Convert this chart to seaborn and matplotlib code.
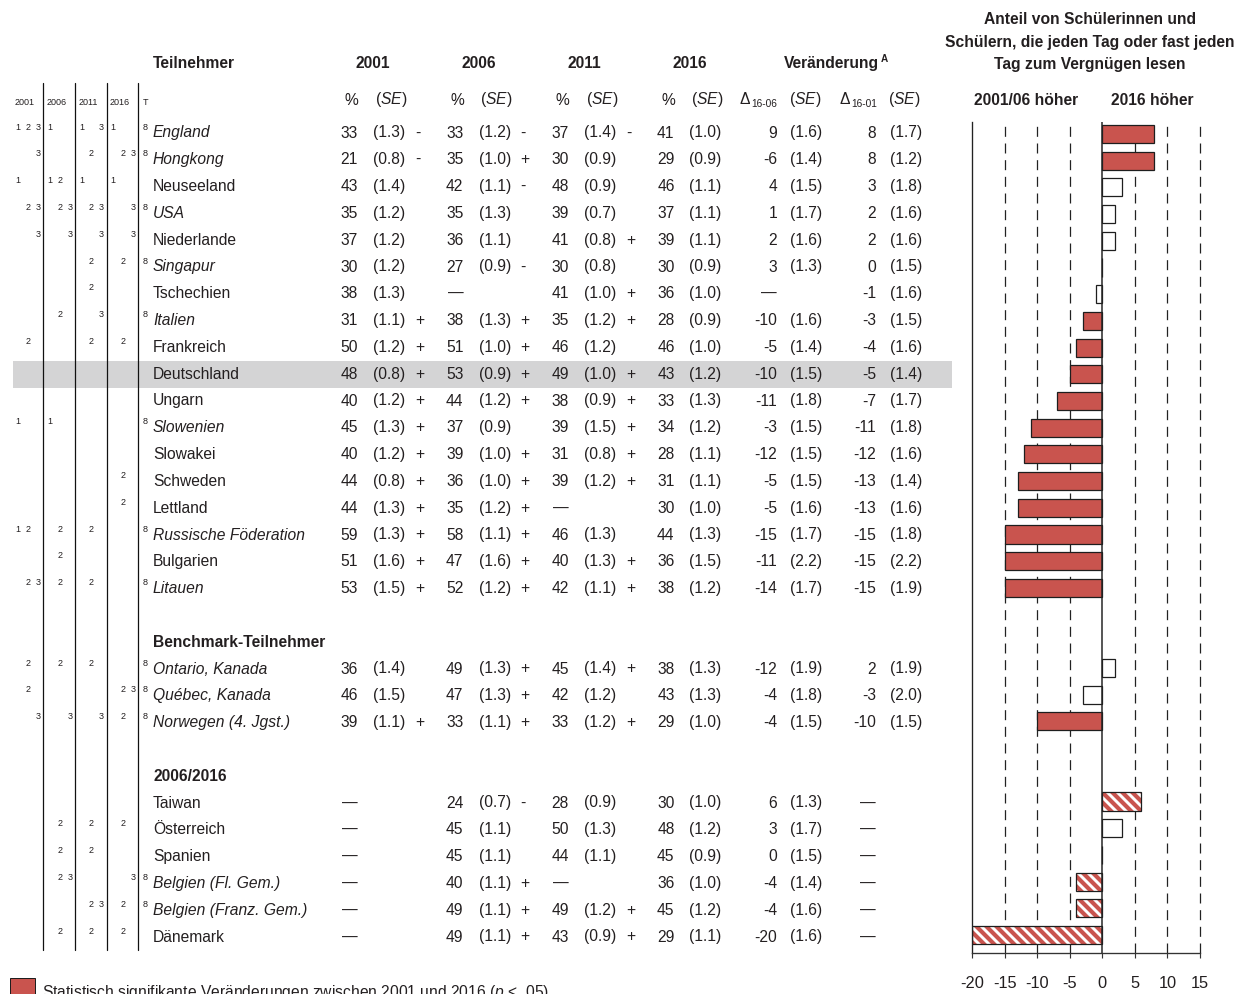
import matplotlib
matplotlib.use("Agg")
import matplotlib.pyplot as plt
import matplotlib.colors as mcolors
from matplotlib.patches import Rectangle
import numpy as np
import pandas as pd
import seaborn as sns

# ---------------------------------------------------------------- data
countries = ["England", "Hongkong", "Neuseeland", "USA", "Niederlande", "Singapur",
             "Tschechien", "Italien", "Frankreich", "Deutschland", "Ungarn", "Slowenien",
             "Slowakei", "Schweden", "Lettland", "Russische Föderation", "Bulgarien", "Litauen",
             "Ontario, Kanada", "Québec, Kanada", "Norwegen (4. Jgst.)",
             "Taiwan", "Österreich", "Spanien", "Belgien (Fl. Gem.)", "Belgien (Franz. Gem.)",
             "Dänemark"]
groups = ["main"] * 18 + ["bench"] * 3 + ["0616"] * 6
group_titles = {"bench": "Benchmark-Teilnehmer", "0616": "2006/2016"}
note_t8 = [1, 1, 0, 1, 0, 1, 0, 1, 0, 0, 0, 1, 0, 0, 0, 1, 0, 1, 1, 1, 1, 0, 0, 0, 1, 1, 0]

N = None
pct_2001 = [33, 21, 43, 35, 37, 30, 38, 31, 50, 48, 40, 45, 40, 44, 44, 59, 51, 53, 36, 46, 39, N, N, N, N, N, N]
se_2001 = [1.3, 0.8, 1.4, 1.2, 1.2, 1.2, 1.3, 1.1, 1.2, 0.8, 1.2, 1.3, 1.2, 0.8, 1.3, 1.3, 1.6, 1.5, 1.4, 1.5, 1.1, N, N, N, N, N, N]
sig_2001 = ["-", "-", "", "", "", "", "", "+", "+", "+", "+", "+", "+", "+", "+", "+", "+", "+", "", "", "+", "", "", "", "", "", ""]

pct_2006 = [33, 35, 42, 35, 36, 27, N, 38, 51, 53, 44, 37, 39, 36, 35, 58, 47, 52, 49, 47, 33, 24, 45, 45, 40, 49, 49]
se_2006 = [1.2, 1.0, 1.1, 1.3, 1.1, 0.9, N, 1.3, 1.0, 0.9, 1.2, 0.9, 1.0, 1.0, 1.2, 1.1, 1.6, 1.2, 1.3, 1.3, 1.1, 0.7, 1.1, 1.1, 1.1, 1.1, 1.1]
sig_2006 = ["-", "+", "-", "", "", "-", "", "+", "+", "+", "+", "", "+", "+", "+", "+", "+", "+", "+", "+", "+", "-", "", "", "+", "+", "+"]

pct_2011 = [37, 30, 48, 39, 41, 30, 41, 35, 46, 49, 38, 39, 31, 39, N, 46, 40, 42, 45, 42, 33, 28, 50, 44, N, 49, 43]
se_2011 = [1.4, 0.9, 0.9, 0.7, 0.8, 0.8, 1.0, 1.2, 1.2, 1.0, 0.9, 1.5, 0.8, 1.2, N, 1.3, 1.3, 1.1, 1.4, 1.2, 1.2, 0.9, 1.3, 1.1, N, 1.2, 0.9]
sig_2011 = ["-", "", "", "", "+", "", "+", "+", "", "+", "+", "+", "+", "+", "", "", "+", "+", "+", "", "+", "", "", "", "", "+", "+"]

pct_2016 = [41, 29, 46, 37, 39, 30, 36, 28, 46, 43, 33, 34, 28, 31, 30, 44, 36, 38, 38, 43, 29, 30, 48, 45, 36, 45, 29]
se_2016 = [1.0, 0.9, 1.1, 1.1, 1.1, 0.9, 1.0, 0.9, 1.0, 1.2, 1.3, 1.2, 1.1, 1.1, 1.0, 1.3, 1.5, 1.2, 1.3, 1.3, 1.0, 1.0, 1.2, 0.9, 1.0, 1.2, 1.1]

d_16_06 = [9, -6, 4, 1, 2, 3, N, -10, -5, -10, -11, -3, -12, -5, -5, -15, -11, -14, -12, -4, -4, 6, 3, 0, -4, -4, -20]
se_16_06 = [1.6, 1.4, 1.5, 1.7, 1.6, 1.3, N, 1.6, 1.4, 1.5, 1.8, 1.5, 1.5, 1.5, 1.6, 1.7, 2.2, 1.7, 1.9, 1.8, 1.5, 1.3, 1.7, 1.5, 1.4, 1.6, 1.6]
d_16_01 = [8, 8, 3, 2, 2, 0, -1, -3, -4, -5, -7, -11, -12, -13, -13, -15, -15, -15, 2, -3, -10, N, N, N, N, N, N]
se_16_01 = [1.7, 1.2, 1.8, 1.6, 1.6, 1.5, 1.6, 1.5, 1.6, 1.4, 1.7, 1.8, 1.6, 1.4, 1.6, 1.8, 2.2, 1.9, 1.9, 2.0, 1.5, N, N, N, N, N, N]

# significance of the plotted change (True = significant)
bar_sig = [1, 1, 0, 0, 0, 0, 0, 1, 1, 1, 1, 1, 1, 1, 1, 1, 1, 1, 0, 0, 1, 1, 0, 0, 1, 1, 1]

# footnote marks per assessment year
fn_2001 = ["123", "3", "1", "23", "3", "", "", "", "2", "", "", "1", "", "", "", "12", "", "23", "2", "2", "3", "", "", "", "", "", ""]
fn_2006 = ["1", "", "12", "23", "3", "", "", "2", "", "", "", "1", "", "", "", "2", "2", "2", "2", "", "3", "", "2", "2", "23", "", "2"]
fn_2011 = ["13", "2", "1", "23", "3", "2", "2", "3", "2", "", "", "", "", "", "", "2", "", "2", "2", "", "3", "", "2", "2", "", "23", "2"]
fn_2016 = ["1", "23", "1", "3", "3", "2", "", "", "2", "", "", "", "", "2", "2", "", "", "", "", "23", "2", "", "2", "", "3", "2", "2"]
fn_years = ["2001", "2006", "2011", "2016"]

highlight = "Deutschland"
xticks = [-20, -15, -10, -5, 0, 5, 10, 15]
xtick_labels = ["-20", "-15", "-10", "-5", "0", "5", "10", "15"]

# ---------------------------------------------------------------- style
RED = "#C9544E"
TXT = "#231F20"
EDGE = "#1E1E1E"
BAND = "#D4D4D5"

sns.set_theme(style="white")
plt.rcParams["font.family"] = ["Liberation Sans", "DejaVu Sans"]
plt.rcParams["mathtext.fontset"] = "custom"
plt.rcParams["mathtext.rm"] = "Liberation Sans"
plt.rcParams["mathtext.it"] = "Liberation Sans:italic"
plt.rcParams["mathtext.bf"] = "Liberation Sans:bold"
plt.rcParams["hatch.linewidth"] = 2.5
plt.rcParams["lines.scale_dashes"] = False

DPI = 120
W, H = 1252, 994
fig = plt.figure(figsize=(W / DPI, H / DPI), dpi=DPI, facecolor="white")

FS = 9.4
SM = 5.4

# row layout: each group gets a title row and a blank row before it
rows = []
r = 0
prev = None
title_rows = {}
for g in groups:
    if g != prev and prev is not None:
        r += 1
        title_rows[g] = r
        r += 1
    rows.append(r)
    prev = g
    r += 1

ROW0, STEP = 137.5, 26.8          # text baseline of first row, row pitch (px)
BAR0, BSTEP = 134.0, 26.7         # bar centre of first row, bar pitch (px)
def base(rr):
    return ROW0 + STEP * rr

# ---------------------------------------------------------------- table
tx = fig.add_axes([0, 0, 1, 1])
tx.set_xlim(0, W)
tx.set_ylim(H, 0)
tx.axis("off")

def put(x, y, s, ha="left", size=FS, **kw):
    tx.text(x, y, s, ha=ha, va="baseline", fontsize=size, color=TXT, **kw)

# highlighted row
hi = countries.index(highlight)
tx.add_patch(Rectangle((13, base(rows[hi]) - 18), 939, 27, facecolor=BAND,
                       edgecolor="none", zorder=0))

# footnote columns
for xv in [43, 75, 107, 138]:
    tx.plot([xv, xv], [83, 950], color="#111111", lw=0.75, zorder=2)
for k, yr in enumerate(fn_years):
    put(25 + 31.7 * k, 105, yr, ha="center", size=SM)
put(145.5, 105, "T", ha="center", size=SM)

# headers
put(153, 68, "Teilnehmer", fontweight="bold")
for k, yr in enumerate(fn_years):
    put(373 + 105.5 * k, 68, yr, ha="center", fontweight="bold")
    put(351.5 + 105.5 * k, 105, "%", ha="center")
    put(391 + 105.5 * k, 104, r"($\mathit{SE}$)", ha="center")
put(831, 68, "Veränderung", ha="center", fontweight="bold")
put(881, 62, "A", size=6.0, fontweight="bold")
for xd, sub, xse in [(745, "16-06", 805), (845, "16-01", 904)]:
    put(xd, 104, "Δ", ha="center")
    put(xd + 6, 107, sub, size=6.1)
    put(xse, 104, r"($\mathit{SE}$)", ha="center")

# group titles
for g, tr in title_rows.items():
    put(153, base(tr), group_titles[g], fontweight="bold")

def fmt_pct(v):
    return "—" if v is None else f"{v:d}"

for i, name in enumerate(countries):
    y = base(rows[i])
    put(153, y, name, fontstyle="italic" if note_t8[i] else "normal")
    if note_t8[i]:
        put(145.5, y - 8, "8", ha="center", size=SM)
    for k, fn in enumerate([fn_2001[i], fn_2006[i], fn_2011[i], fn_2016[i]]):
        for ch in fn:
            put(18 + 31.7 * k + 10 * (int(ch) - 1), y - 8, ch, ha="center", size=SM)
    cols = [(pct_2001, se_2001, sig_2001), (pct_2006, se_2006, sig_2006),
            (pct_2011, se_2011, sig_2011), (pct_2016, se_2016, None)]
    for k, (pv, sv, sg) in enumerate(cols):
        x0 = 105.5 * k
        put(358 + x0, y, fmt_pct(pv[i]), ha="right")
        if pv[i] is not None:
            put(373 + x0, y, f"({sv[i]:.1f})")
            if sg is not None and sg[i]:
                put(415 + x0, y, sg[i])
    for xr, xs, dv, sv in [(777, 790, d_16_06, se_16_06), (876, 890, d_16_01, se_16_01)]:
        put(xr, y, fmt_pct(dv[i]), ha="right")
        if dv[i] is not None:
            put(xs, y, f"({sv[i]:.1f})")

# right-hand headers
for yy, line in zip([24.5, 46.5, 68.5], ["Anteil von Schülerinnen und",
                                         "Schülern, die jeden Tag oder fast jeden",
                                         "Tag zum Vergnügen lesen"]):
    put(1090, yy, line, ha="center", fontweight="bold")
put(1026, 105, "2001/06 höher", ha="center", fontweight="bold")
put(1152, 105, "2016 höher", ha="center", fontweight="bold")

# legend
tx.add_patch(Rectangle((10, 978), 25, 30, facecolor=RED, edgecolor=EDGE, lw=0.6))
put(42, 997, r"Statistisch signifikante Veränderungen zwischen 2001 und 2016 ($p$ < .05)")

# ---------------------------------------------------------------- bar chart
top_px, bot_px, left_px, right_px = 122, 953, 972, 1200
bx = fig.add_axes([left_px / W, 1 - bot_px / H, (right_px - left_px) / W, (bot_px - top_px) / H])
bx.patch.set_alpha(0)

bar_val = [d_16_06[i] if groups[i] == "0616" else d_16_01[i] for i in range(len(countries))]
kind = []
for i in range(len(countries)):
    if not bar_sig[i]:
        kind.append("ns")
    elif groups[i] == "0616":
        kind.append("hatch")
    else:
        kind.append("sig")
df = pd.DataFrame({"row": rows, "delta": bar_val, "kind": kind})

sns.barplot(data=df, x="delta", y="row", hue="kind", orient="h", native_scale=True,
            palette={"sig": RED, "ns": "white", "hatch": "white"}, saturation=1,
            width=0.68, dodge=False, legend=False, edgecolor=EDGE, linewidth=0.75,
            ax=bx, zorder=2)

kind_by_row = dict(zip(rows, kind))
for p in bx.patches:
    rr = int(round(p.get_y() + p.get_height() / 2))
    if kind_by_row.get(rr) == "hatch":
        p.set_hatch("\\\\\\\\")
        if hasattr(p, "set_hatchcolor"):
            p.set_hatchcolor(RED)
        else:
            p._hatch_color = mcolors.to_rgba(RED)

bx.set_ylim((bot_px - BAR0) / BSTEP, (top_px - BAR0) / BSTEP)
bx.set_xlim(-20, 15)

for v in [-15, -10, -5, 5, 10, 15]:
    bx.axvline(v, color="#222222", lw=0.75, ls=(0, (6, 4)), zorder=0.5, clip_on=False)
bx.axvline(0, color="#222222", lw=0.9, zorder=3)

for s in ["top", "right"]:
    bx.spines[s].set_visible(False)
bx.spines["left"].set_color("#222222")
bx.spines["left"].set_linewidth(0.8)
bx.spines["bottom"].set_color("#333333")
bx.spines["bottom"].set_linewidth(0.8)
bx.set_yticks([])
bx.set_xticks(xticks)
bx.set_xticklabels(xtick_labels)
bx.tick_params(axis="x", bottom=True, length=3, width=0.7, color="#333333",
               pad=11, labelsize=9.8, labelcolor=TXT)
bx.set_xlabel("")
bx.set_ylabel("")

fig.savefig("out.png", dpi=DPI, facecolor="white")
